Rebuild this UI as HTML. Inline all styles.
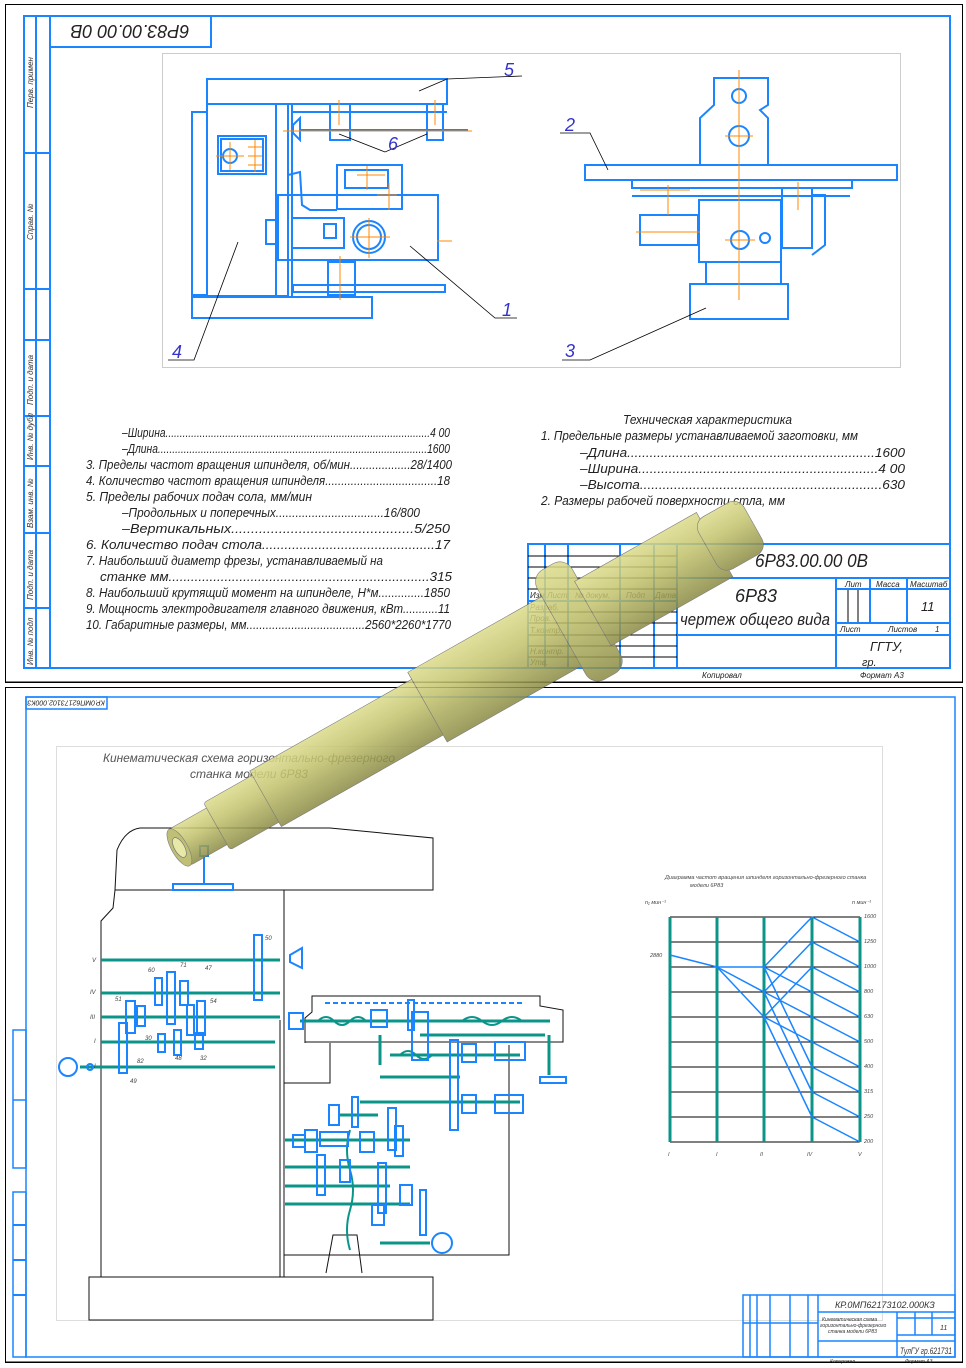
<!DOCTYPE html>
<html><head><meta charset="utf-8"><style>
html,body{margin:0;padding:0;background:#fff}
svg{display:block}
text{font-family:"Liberation Sans",sans-serif;font-style:italic}
</style></head><body>
<svg width="966" height="1368" viewBox="0 0 966 1368" xmlns="http://www.w3.org/2000/svg">
<defs>
<linearGradient id="sg2" x1="0" y1="0" x2="0" y2="1">
<stop offset="0" stop-color="#dcdc8c"/><stop offset="0.4" stop-color="#c2c26c"/><stop offset="1" stop-color="#8a8a44"/>
</linearGradient>
</defs>
<!-- ===== TOP SHEET ===== -->
<rect x="5.5" y="4.5" width="957" height="678" fill="none" stroke="#000" stroke-width="1"/>
<g fill="none" stroke="#1a85ff" stroke-width="2">
<rect x="24" y="16" width="926" height="652"/>
<line x1="36" y1="16" x2="36" y2="668"/>
<line x1="50" y1="16" x2="50" y2="668"/>
<line x1="24" y1="153" x2="50" y2="153"/><line x1="24" y1="289" x2="50" y2="289"/>
<line x1="24" y1="340" x2="50" y2="340"/><line x1="24" y1="416" x2="50" y2="416"/>
<line x1="24" y1="466" x2="50" y2="466"/><line x1="24" y1="533" x2="50" y2="533"/>
<line x1="24" y1="608" x2="50" y2="608"/>
<rect x="50" y="16" width="161" height="31"/>
</g>
<text transform="translate(130,31) rotate(180)" font-size="18" fill="#222" text-anchor="middle" dy="6">6P83.00.00 0B</text>
<g font-size="8" fill="#333">
<text transform="translate(33,108) rotate(-90)">Перв. примен</text>
<text transform="translate(33,240) rotate(-90)">Справ. №</text>
<text transform="translate(33,405) rotate(-90)">Подп. и дата</text>
<text transform="translate(33,460) rotate(-90)">Инв. № дубл</text>
<text transform="translate(33,528) rotate(-90)">Взам. инв. №</text>
<text transform="translate(33,600) rotate(-90)">Подп. и дата</text>
<text transform="translate(33,665) rotate(-90)">Инв. № подл</text>
</g>
<rect x="162.5" y="53.5" width="738" height="314" fill="none" stroke="#ccc"/>
<!-- front view machine -->
<g fill="none" stroke="#1a85ff" stroke-width="2">
<rect x="207" y="79" width="240" height="25"/>
<rect x="192" y="112" width="15" height="183"/>
<rect x="207" y="104" width="69" height="192"/>
<rect x="276" y="104" width="12" height="192"/>
<line x1="292" y1="104" x2="292" y2="296"/>
<line x1="292" y1="112" x2="447" y2="112"/>
<rect x="218" y="136" width="48" height="38"/><rect x="221" y="139" width="42" height="32"/>
<circle cx="230" cy="156" r="7"/>
<rect x="192" y="297" width="180" height="21"/>
<rect x="293" y="285" width="152" height="7"/>
<rect x="330" y="104" width="20" height="36"/><rect x="427" y="104" width="16" height="36"/>
<line x1="300" y1="130" x2="468" y2="130"/>
<path d="M293,125 L300,118 L300,140 L293,133 Z"/>
<rect x="337" y="165" width="65" height="44"/>
<rect x="345" y="170" width="43" height="18"/>
<rect x="278" y="195" width="160" height="65"/>
<rect x="292" y="218" width="52" height="30"/><rect x="324" y="224" width="12" height="14"/>
<circle cx="369" cy="237" r="16"/><circle cx="369" cy="237" r="12"/>
<rect x="266" y="220" width="10" height="24"/>
<rect x="328" y="262" width="27" height="33"/>
<path d="M288,175 L300,172 L302,205 L310,210 L337,210"/>
</g>
<g stroke="#ff8800" stroke-width="1">
<line x1="216" y1="156" x2="244" y2="156"/><line x1="230" y1="142" x2="230" y2="170"/>
<line x1="248" y1="147" x2="262" y2="147"/><line x1="248" y1="156" x2="262" y2="156"/><line x1="248" y1="165" x2="262" y2="165"/>
<line x1="255" y1="140" x2="255" y2="172"/>
<line x1="283" y1="131" x2="472" y2="131"/>
<line x1="339" y1="100" x2="339" y2="125"/><line x1="435" y1="100" x2="435" y2="125"/>
<line x1="350" y1="237" x2="390" y2="237"/><line x1="369" y1="218" x2="369" y2="258"/>
<line x1="340" y1="256" x2="340" y2="300"/>
<line x1="357" y1="175" x2="385" y2="175"/><line x1="367" y1="166" x2="367" y2="190"/>
<line x1="377" y1="195" x2="397" y2="195"/><line x1="389" y1="183" x2="389" y2="210"/>
<line x1="437" y1="241" x2="452" y2="241"/>
</g>
<!-- side view -->
<g fill="none" stroke="#1a85ff" stroke-width="2">
<rect x="585" y="165" width="312" height="15"/>
<rect x="632" y="180" width="220" height="8"/>
<path d="M714,78 L768,78 L768,105 L760,110 L768,118 L768,165 L700,165 L700,118 L714,105 Z"/>
<circle cx="739" cy="96" r="7"/><circle cx="739" cy="136" r="10"/>
<rect x="699" y="200" width="82" height="62"/>
<circle cx="740" cy="240" r="9"/><circle cx="765" cy="238" r="5"/>
<rect x="640" y="215" width="58" height="30"/>
<rect x="782" y="188" width="30" height="60"/>
<path d="M812,195 L825,195 L825,245 L812,255"/>
<rect x="706" y="262" width="75" height="22"/>
<rect x="690" y="284" width="98" height="35"/>
<line x1="632" y1="196" x2="850" y2="196"/>
</g>
<g stroke="#ff8800" stroke-width="1">
<line x1="739" y1="70" x2="739" y2="300"/><line x1="725" y1="136" x2="753" y2="136"/>
<line x1="636" y1="232" x2="700" y2="232"/><line x1="725" y1="240" x2="755" y2="240"/>
<line x1="668" y1="185" x2="668" y2="215"/><line x1="798" y1="182" x2="798" y2="210"/>
<line x1="640" y1="190" x2="690" y2="190"/>
</g>
<!-- leaders -->
<g stroke="#000" stroke-width="0.8" fill="none">
<polyline points="419,91 447,79 522,76"/><polyline points="339,134 385,152 427,134"/>
<polyline points="238,242 194,360 168,360"/><polyline points="410,246 495,318 517,318"/>
<polyline points="608,170 590,133 560,133"/><polyline points="706,308 590,360 562,360"/>
</g>
<g font-size="18" fill="#3333cc">
<text x="504" y="76">5</text><text x="388" y="150">6</text><text x="172" y="358">4</text>
<text x="502" y="316">1</text><text x="565" y="131">2</text><text x="565" y="357">3</text>
</g>
<!-- spec text -->
<g font-size="12.5" fill="#222" lengthAdjust="spacingAndGlyphs">
<text x="122" y="437" textLength="328" lengthAdjust="spacingAndGlyphs">–Ширина.............................................................................................4 00</text>
<text x="122" y="453" textLength="328" lengthAdjust="spacingAndGlyphs">–Длина..............................................................................................1600</text>
<text x="86" y="469" textLength="366" lengthAdjust="spacingAndGlyphs">3. Пределы частот вращения шпинделя, об/мин...................28/1400</text>
<text x="86" y="485" textLength="364" lengthAdjust="spacingAndGlyphs">4. Количество частот вращения шпинделя...................................18</text>
<text x="86" y="501" textLength="226" lengthAdjust="spacingAndGlyphs">5. Пределы рабочих подач сола, мм/мин</text>
<text x="122" y="517" textLength="298" lengthAdjust="spacingAndGlyphs">–Продольных и поперечных.................................16/800</text>
<text x="122" y="533" textLength="328" lengthAdjust="spacingAndGlyphs">–Вертикальных..............................................5/250</text>
<text x="86" y="549" textLength="364" lengthAdjust="spacingAndGlyphs">6. Количество подач стола..............................................17</text>
<text x="86" y="565" textLength="297" lengthAdjust="spacingAndGlyphs">7. Наибольший диаметр фрезы, устанавливаемый на</text>
<text x="100" y="581" textLength="352" lengthAdjust="spacingAndGlyphs">станке мм......................................................................315</text>
<text x="86" y="597" textLength="364" lengthAdjust="spacingAndGlyphs">8. Наибольший крутящий момент на шпинделе, Н*м..............1850</text>
<text x="86" y="613" textLength="364" lengthAdjust="spacingAndGlyphs">9. Мощность электродвигателя главного движения, кВт...........11</text>
<text x="86" y="629" textLength="365" lengthAdjust="spacingAndGlyphs">10. Габаритные размеры, мм.....................................2560*2260*1770</text>
<text x="623" y="424" textLength="169" lengthAdjust="spacingAndGlyphs">Техническая характеристика</text>
<text x="541" y="440" textLength="317" lengthAdjust="spacingAndGlyphs">1. Предельные размеры устанавливаемой заготовки, мм</text>
<text x="580" y="457" textLength="325" lengthAdjust="spacingAndGlyphs">–Длина..................................................................1600</text>
<text x="580" y="473" textLength="325" lengthAdjust="spacingAndGlyphs">–Ширина...............................................................4 00</text>
<text x="580" y="489" textLength="325" lengthAdjust="spacingAndGlyphs">–Высота................................................................630</text>
<text x="541" y="505" textLength="244" lengthAdjust="spacingAndGlyphs">2. Размеры рабочей поверхности стла, мм</text>
</g>
<!-- title block top -->
<g fill="none" stroke="#1a85ff" stroke-width="2">
<rect x="528" y="544" width="422" height="124"/>
<line x1="545" y1="544" x2="545" y2="668"/><line x1="568" y1="544" x2="568" y2="668"/>
<line x1="620" y1="544" x2="620" y2="668"/><line x1="654" y1="544" x2="654" y2="668"/>
<line x1="677" y1="544" x2="677" y2="668"/>
<line x1="677" y1="578" x2="950" y2="578"/>
<line x1="836" y1="578" x2="836" y2="668"/>
<line x1="836" y1="589" x2="950" y2="589"/><line x1="836" y1="623" x2="950" y2="623"/>
<line x1="836" y1="635" x2="950" y2="635"/><line x1="677" y1="635" x2="836" y2="635"/>
<line x1="870" y1="578" x2="870" y2="623"/><line x1="907" y1="578" x2="907" y2="623"/>
<line x1="528" y1="601" x2="677" y2="601"/>
</g>
<g stroke="#000" stroke-width="1">
<line x1="528" y1="556" x2="677" y2="556"/><line x1="528" y1="567" x2="677" y2="567"/><line x1="528" y1="578" x2="677" y2="578"/>
<line x1="528" y1="589" x2="677" y2="589"/><line x1="528" y1="612" x2="677" y2="612"/><line x1="528" y1="623" x2="677" y2="623"/>
<line x1="528" y1="635" x2="677" y2="635"/><line x1="528" y1="646" x2="677" y2="646"/><line x1="528" y1="657" x2="677" y2="657"/>
<line x1="848" y1="590" x2="848" y2="622"/><line x1="858" y1="590" x2="858" y2="622"/>
<line x1="5" y1="682" x2="962" y2="682"/>
</g>
<g fill="#222">
<text x="755" y="567" font-size="18" textLength="113" lengthAdjust="spacingAndGlyphs">6P83.00.00 0B</text>
<text x="735" y="602" font-size="18">6P83</text>
<text x="680" y="625" font-size="17" textLength="150" lengthAdjust="spacingAndGlyphs">чертеж общего вида</text>
<text x="921" y="611" font-size="13">11</text>
<text x="870" y="651" font-size="13">ГГТУ,</text>
<text x="862" y="666" font-size="11">гр.</text>
<g font-size="8">
<text x="845" y="587">Лит</text><text x="876" y="587">Масса</text><text x="910" y="587">Масштаб</text>
<text x="840" y="632">Лист</text><text x="888" y="632">Листов</text><text x="935" y="632">1</text>
<text x="530" y="598">Изм Лист</text><text x="575" y="598">№ докум.</text><text x="626" y="598">Подп</text><text x="655" y="598">Дата</text>
<text x="530" y="610">Разраб.</text><text x="530" y="621">Пров.</text><text x="530" y="633">Т.контр.</text>
<text x="530" y="654">Н.контр.</text><text x="530" y="665">Утв.</text>
<text x="702" y="678">Копировал</text><text x="860" y="678">Формат А3</text>
</g></g>
<!-- ===== BOTTOM SHEET ===== -->
<rect x="5.5" y="687.5" width="957" height="675" fill="none" stroke="#000"/>
<g fill="none" stroke="#1a85ff" stroke-width="2">
<path d="M26,697 L955,697 L955,1357 L26,1357 Z" stroke-width="1.5"/>
<rect x="26" y="697" width="81" height="12" stroke-width="1.5"/>
<rect x="13" y="1030" width="13" height="138" stroke-width="1.5"/>
<line x1="13" y1="1100" x2="26" y2="1100" stroke-width="1.5"/>
<rect x="13" y="1192" width="13" height="165" stroke-width="1.5"/>
<line x1="13" y1="1225" x2="26" y2="1225"/><line x1="13" y1="1260" x2="26" y2="1260"/><line x1="13" y1="1295" x2="26" y2="1295"/>
</g>
<text transform="translate(66,703) rotate(180)" font-size="7" fill="#222" text-anchor="middle" dy="2.5">КР.0МП62173102.000КЗ</text>
<rect x="56.5" y="746.5" width="826" height="574" fill="none" stroke="#ddd"/>
<text x="103" y="762" font-size="12" fill="#555" textLength="292" lengthAdjust="spacingAndGlyphs">Кинематическая схема горизонтально-фрезерного</text>
<text x="190" y="778" font-size="12" fill="#555" textLength="118" lengthAdjust="spacingAndGlyphs">станка модели 6Р83</text>
<!-- machine outline -->
<g fill="none" stroke="#111" stroke-width="1">
<path d="M115,890 L117,850 Q125,830 140,828 L330,828 L433,838 L433,890 L115,890"/>
<path d="M115,890 L113,908 L101,921 L101,1277"/>
<line x1="284" y1="890" x2="284" y2="1277"/>
<line x1="280" y1="1020" x2="280" y2="1277"/>
<path d="M284,1083 L330,1083 L330,1043"/>
<path d="M284,1255 L509,1255 L509,1045"/>
<path d="M89,1277 L433,1277 L433,1320 L89,1320 Z"/>
<path d="M305,1043 L305,1018 L312,1012 L312,996 L540,996 L540,1006 L563,1010 L563,1042 L305,1042"/>
<path d="M326,1273 L333,1235 L357,1235 L362,1273"/>
</g>
<!-- shafts teal -->
<g stroke="#0b9488" stroke-width="3">
<line x1="101" y1="960" x2="280" y2="960"/><line x1="101" y1="993" x2="280" y2="993"/>
<line x1="101" y1="1017" x2="280" y2="1017"/><line x1="101" y1="1042" x2="275" y2="1042"/>
<line x1="80" y1="1067" x2="275" y2="1067"/>
<line x1="300" y1="1021" x2="550" y2="1021"/><line x1="420" y1="1035" x2="545" y2="1035"/>
<line x1="390" y1="1055" x2="520" y2="1055"/><line x1="380" y1="1077" x2="460" y2="1077"/>
<line x1="360" y1="1102" x2="520" y2="1102"/><line x1="340" y1="1115" x2="378" y2="1115"/>
<line x1="285" y1="1140" x2="410" y2="1140"/><line x1="285" y1="1167" x2="410" y2="1167"/>
<line x1="285" y1="1186" x2="390" y2="1186"/><line x1="285" y1="1204" x2="410" y2="1204"/>
<line x1="380" y1="1035" x2="380" y2="1065"/><line x1="549" y1="1035" x2="549" y2="1075"/>
<line x1="380" y1="1243" x2="430" y2="1243"/>
</g>
<path d="M318,1021 q8,-8 16,0 q8,8 16,0 q8,-8 16,0 M462,1021 q10,-8 20,0 q10,8 20,0 q10,-8 20,0 M400,1055 q8,-8 16,0 q8,8 16,0 M350,1130 q-6,20 0,40 q6,20 0,40 q-6,20 0,40" stroke="#0b9488" stroke-width="2" fill="none"/>
<!-- gears blue -->
<g fill="none" stroke="#1a85ff" stroke-width="2">
<rect x="254" y="935" width="8" height="65"/><path d="M290,955 L302,948 L302,968 L290,962 Z"/>
<rect x="155" y="978" width="7" height="27"/><rect x="167" y="972" width="8" height="52"/><rect x="180" y="981" width="8" height="24"/>
<rect x="126" y="1001" width="9" height="32"/><rect x="137" y="1006" width="8" height="20"/>
<rect x="187" y="1005" width="7" height="30"/><rect x="197" y="1001" width="8" height="34"/>
<rect x="158" y="1034" width="7" height="18"/><rect x="174" y="1030" width="7" height="25"/><rect x="195" y="1033" width="8" height="16"/>
<rect x="119" y="1023" width="8" height="50"/>
<circle cx="68" cy="1067" r="9"/><circle cx="90" cy="1067" r="3"/>
<rect x="173" y="884" width="60" height="6"/><rect x="200" y="846" width="8" height="10"/>
<line x1="204" y1="856" x2="204" y2="884"/>
<rect x="289" y="1013" width="14" height="16"/><rect x="408" y="1000" width="6" height="30"/>
<rect x="371" y="1010" width="16" height="17"/><rect x="412" y="1012" width="16" height="48"/>
<rect x="450" y="1040" width="8" height="90"/><rect x="462" y="1044" width="14" height="18"/>
<rect x="495" y="1042" width="30" height="18"/><rect x="495" y="1095" width="28" height="18"/>
<rect x="462" y="1095" width="14" height="18"/><rect x="540" y="1077" width="26" height="6"/>
<rect x="329" y="1105" width="10" height="20"/><rect x="352" y="1097" width="6" height="30"/>
<rect x="388" y="1108" width="8" height="42"/><rect x="395" y="1126" width="8" height="30"/>
<rect x="293" y="1135" width="12" height="12"/><rect x="305" y="1130" width="12" height="22"/>
<rect x="320" y="1132" width="28" height="14"/><rect x="360" y="1132" width="14" height="20"/>
<rect x="378" y="1163" width="8" height="50"/><rect x="400" y="1185" width="12" height="20"/>
<rect x="317" y="1155" width="8" height="40"/><rect x="340" y="1160" width="10" height="22"/>
<rect x="372" y="1205" width="12" height="20"/><rect x="420" y="1190" width="6" height="45"/>
<circle cx="442" cy="1243" r="10"/>
</g>
<g stroke="#1a85ff" stroke-width="2" stroke-dasharray="5,3"><line x1="325" y1="1003" x2="524" y2="1003"/></g>
<!-- labels small -->
<g font-size="6" fill="#444">
<text x="92" y="962">V</text><text x="90" y="994">IV</text><text x="90" y="1019">III</text><text x="94" y="1043">I</text><text x="94" y="1068">I</text>
<text x="265" y="940">50</text><text x="148" y="972">60</text><text x="180" y="967">71</text><text x="205" y="970">47</text>
<text x="115" y="1001">51</text><text x="210" y="1003">54</text><text x="145" y="1040">30</text>
<text x="175" y="1060">48</text><text x="200" y="1060">32</text><text x="137" y="1063">82</text><text x="130" y="1083">49</text>
</g>
<!-- graph -->
<g stroke="#000" stroke-width="1">
<line x1="670" y1="917" x2="860" y2="917"/><line x1="670" y1="942" x2="860" y2="942"/><line x1="670" y1="967" x2="860" y2="967"/>
<line x1="670" y1="992" x2="860" y2="992"/><line x1="670" y1="1017" x2="860" y2="1017"/><line x1="670" y1="1042" x2="860" y2="1042"/>
<line x1="670" y1="1067" x2="860" y2="1067"/><line x1="670" y1="1092" x2="860" y2="1092"/><line x1="670" y1="1117" x2="860" y2="1117"/>
<line x1="670" y1="1142" x2="860" y2="1142"/>
</g>
<g stroke="#0b9488" stroke-width="3">
<line x1="670" y1="917" x2="670" y2="1142"/><line x1="717" y1="917" x2="717" y2="1142"/><line x1="764" y1="917" x2="764" y2="1142"/>
<line x1="812" y1="917" x2="812" y2="1142"/><line x1="860" y1="917" x2="860" y2="1142"/>
</g>
<g stroke="#1a85ff" stroke-width="1.5" fill="none">
<polyline points="670,955 717,967 764,967"/>
<line x1="717" y1="967" x2="764" y2="992"/><line x1="717" y1="967" x2="764" y2="1017"/>
<line x1="764" y1="967" x2="812" y2="917"/><line x1="764" y1="992" x2="812" y2="942"/><line x1="764" y1="1017" x2="812" y2="967"/>
<line x1="764" y1="967" x2="812" y2="1067"/><line x1="764" y1="992" x2="812" y2="1092"/><line x1="764" y1="1017" x2="812" y2="1117"/>
<line x1="764" y1="967" x2="812" y2="992"/><line x1="764" y1="992" x2="812" y2="1017"/><line x1="764" y1="1017" x2="812" y2="1042"/>
<line x1="812" y1="917" x2="860" y2="942"/><line x1="812" y1="942" x2="860" y2="967"/><line x1="812" y1="967" x2="860" y2="992"/>
<line x1="812" y1="992" x2="860" y2="1017"/><line x1="812" y1="1017" x2="860" y2="1042"/><line x1="812" y1="1042" x2="860" y2="1067"/>
<line x1="812" y1="1067" x2="860" y2="1092"/><line x1="812" y1="1092" x2="860" y2="1117"/><line x1="812" y1="1117" x2="860" y2="1142"/>
</g>
<g font-size="5.5" fill="#444">
<text x="665" y="879">Диаграмма частот вращения шпинделя горизонтально-фрезерного станка</text>
<text x="690" y="887">модели 6Р83</text>
<text x="645" y="904">n₁ мин⁻¹</text><text x="852" y="904">n мин⁻¹</text>
<text x="650" y="957">2880</text>
<text x="864" y="918">1600</text><text x="864" y="943">1250</text><text x="864" y="968">1000</text><text x="864" y="993">800</text>
<text x="864" y="1018">630</text><text x="864" y="1043">500</text><text x="864" y="1068">400</text><text x="864" y="1093">315</text>
<text x="864" y="1118">250</text><text x="864" y="1143">200</text>
<text x="668" y="1156">I</text><text x="716" y="1156">I</text><text x="760" y="1156">II</text><text x="807" y="1156">IV</text><text x="858" y="1156">V</text>
</g>
<!-- bottom title block -->
<g fill="none" stroke="#1a85ff" stroke-width="1.5">
<rect x="743" y="1295" width="212" height="62"/>
<line x1="750" y1="1295" x2="750" y2="1357"/><line x1="757" y1="1295" x2="757" y2="1357"/>
<line x1="770" y1="1295" x2="770" y2="1357"/><line x1="790" y1="1295" x2="790" y2="1357"/><line x1="808" y1="1295" x2="808" y2="1357"/>
<line x1="818" y1="1295" x2="818" y2="1357"/>
<line x1="818" y1="1312" x2="955" y2="1312"/><line x1="897" y1="1312" x2="897" y2="1357"/>
<line x1="897" y1="1318" x2="955" y2="1318"/><line x1="897" y1="1335" x2="955" y2="1335"/><line x1="897" y1="1341" x2="955" y2="1341"/>
<line x1="743" y1="1323" x2="818" y2="1323"/><line x1="818" y1="1341" x2="897" y2="1341"/>
<line x1="915" y1="1312" x2="915" y2="1335"/><line x1="932" y1="1312" x2="932" y2="1335"/>
</g>
<g fill="#333" font-size="9">
<text x="835" y="1308">КР.0МП62173102.000КЗ</text>
<text x="900" y="1354" textLength="52" lengthAdjust="spacingAndGlyphs">ТулГУ гр.621731</text>
<text x="940" y="1330" font-size="7">11</text>
<g font-size="5"><text x="822" y="1321">Кинематическая схема</text><text x="820" y="1327">горизонтально-фрезерного</text><text x="828" y="1333">станка модели 6Р83</text>
<text x="830" y="1363">Копировал</text><text x="905" y="1363">Формат А3</text></g>
</g>
<line x1="5" y1="1362" x2="962" y2="1362" stroke="#000"/>
<!-- shaft -->
<g transform="translate(182,846) rotate(-29.5)" opacity="0.85">
<rect x="-4" y="-21" width="50" height="42" rx="5" fill="url(#sg2)" stroke="#666" stroke-width="0.6"/>
<rect x="40" y="-27" width="60" height="54" rx="3" fill="url(#sg2)" stroke="#666" stroke-width="0.6"/>
<rect x="96" y="-32" width="190" height="64" fill="url(#sg2)" stroke="#666" stroke-width="0.6"/>
<rect x="282" y="-40" width="160" height="80" fill="url(#sg2)" stroke="#666" stroke-width="0.6"/>
<rect x="436" y="-63" width="40" height="126" rx="14" fill="url(#sg2)" stroke="#666" stroke-width="0.6"/>
<rect x="472" y="-37" width="140" height="74" fill="url(#sg2)" stroke="#666" stroke-width="0.6"/>
<rect x="604" y="-30" width="52" height="60" rx="12" fill="url(#sg2)" stroke="#666" stroke-width="0.6"/>
<ellipse cx="-3" cy="0" rx="8" ry="21" fill="#b4b460" stroke="#666" stroke-width="0.6"/>
<ellipse cx="-3" cy="0" rx="5" ry="11" fill="#e4e49a" stroke="#555" stroke-width="0.6"/>
</g>
</svg>
</body></html>
